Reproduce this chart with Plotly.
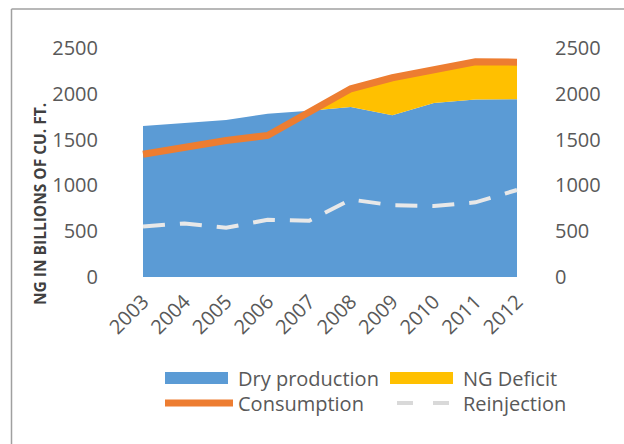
import plotly.graph_objects as go

# Natural gas balance, billions of cubic feet
years = [2003, 2004, 2005, 2006, 2007, 2008, 2009, 2010, 2011, 2012]
dry_production = [1648, 1684, 1715, 1783, 1815, 1857, 1765, 1900, 1938, 1940]
ng_deficit = [0, 0, 0, 0, 0, 198, 410, 360, 412, 405]
consumption = [1340, 1420, 1490, 1545, 1795, 2055, 2175, 2260, 2350, 2345]
reinjection = [552, 585, 537, 625, 614, 846, 783, 774, 815, 950]
y_ticks = [0, 500, 1000, 1500, 2000, 2500]

BLUE = "#5B9BD5"
YELLOW = "#FFC000"
ORANGE = "#ED7D31"
LIGHT = "#E8E8E8"
TEXT = "#595959"
FONT = "Open Sans"

W, H = 624, 444
# plot area in pixels
L, R, T, B = 99, 554, 48, 277
# pixel positions of the first and last year
X_FIRST, X_LAST = 143, 517
per_year = (X_LAST - X_FIRST) / (years[-1] - years[0])
x_range = [years[0] - (X_FIRST - L) / per_year, years[-1] + (R - X_LAST) / per_year]


def px(x):
    return (x - L) / (R - L)


def py(y):
    return (B - y) / (B - T)


fig = go.Figure()
fig.add_trace(go.Scatter(x=years, y=dry_production, name="Dry production",
                         stackgroup="s", mode="lines", line=dict(width=0, color=BLUE),
                         fillcolor=BLUE, showlegend=False))
fig.add_trace(go.Scatter(x=years, y=ng_deficit, name="NG Deficit",
                         stackgroup="s", mode="lines", line=dict(width=0, color=YELLOW),
                         fillcolor=YELLOW, showlegend=False))
fig.add_trace(go.Scatter(x=years, y=consumption, name="Consumption", mode="lines",
                         line=dict(color=ORANGE, width=7), showlegend=False))
fig.add_trace(go.Scatter(x=years, y=reinjection, name="Reinjection", mode="lines",
                         line=dict(color=LIGHT, width=4, dash="22px,15px"),
                         showlegend=False))
# same consumption values on the secondary (right) axis so that it is drawn
fig.add_trace(go.Scatter(x=years, y=consumption, yaxis="y2", mode="lines",
                         line=dict(width=0), opacity=0, hoverinfo="skip",
                         showlegend=False))

shapes = []
# outer frame (left and top edges)
shapes.append(dict(type="line", xref="paper", yref="paper", x0=px(11.5), x1=px(11.5),
                   y0=py(9), y1=py(450), line=dict(color="#A0A0A0", width=1.5)))
shapes.append(dict(type="line", xref="paper", yref="paper", x0=px(11.5), x1=px(630),
                   y0=py(9), y1=py(9), line=dict(color="#A0A0A0", width=1.5)))

# legend swatches
shapes.append(dict(type="rect", xref="paper", yref="paper", x0=px(165), x1=px(228),
                   y0=py(384), y1=py(372), fillcolor=BLUE, line=dict(width=0)))
shapes.append(dict(type="rect", xref="paper", yref="paper", x0=px(390), x1=px(453),
                   y0=py(384), y1=py(372), fillcolor=YELLOW, line=dict(width=0)))
shapes.append(dict(type="line", xref="paper", yref="paper", x0=px(165), x1=px(233),
                   y0=py(403), y1=py(403), line=dict(color=ORANGE, width=7)))
shapes.append(dict(type="line", xref="paper", yref="paper", x0=px(397), x1=px(452),
                   y0=py(403), y1=py(403), line=dict(color="#D9D9D9", width=4, dash="16px,20px")))

annotations = []
for label, x, y in [("Dry production", 236, 378), ("NG Deficit", 461, 378),
                    ("Consumption", 236, 403), ("Reinjection", 461, 403)]:
    annotations.append(dict(text=label, xref="paper", yref="paper", x=px(x), y=py(y),
                            xanchor="left", yanchor="middle", showarrow=False,
                            font=dict(family=FONT, size=20, color=TEXT)))

annotations.append(dict(text="<b>NG IN BILLIONS OF CU. FT.</b>", xref="paper", yref="paper",
                        x=px(40), y=py(204), xanchor="center", yanchor="middle",
                        textangle=-90, showarrow=False,
                        font=dict(family=FONT, size=15.5, color="#404040")))

axis_font = dict(family=FONT, size=20, color=TEXT)
fig.update_layout(
    width=W, height=H,
    margin=dict(l=L, r=W - R, t=T, b=H - B, pad=0),
    paper_bgcolor="white", plot_bgcolor="white",
    showlegend=False,
    xaxis=dict(range=x_range, tickvals=years, ticktext=[str(y) for y in years],
               tickangle=-45, showgrid=False, zeroline=False, showline=False,
               ticks="", tickfont=axis_font, ticklabelstandoff=8),
    yaxis=dict(range=[0, 2500], tickvals=y_ticks, showgrid=False, zeroline=False,
               showline=False, ticks="", tickfont=axis_font),
    yaxis2=dict(range=[0, 2500], tickvals=y_ticks, overlaying="y", side="right",
                showgrid=False, zeroline=False, showline=False, ticks="",
                tickfont=axis_font),
    shapes=shapes,
    annotations=annotations,
)

fig.write_html("out.html")
